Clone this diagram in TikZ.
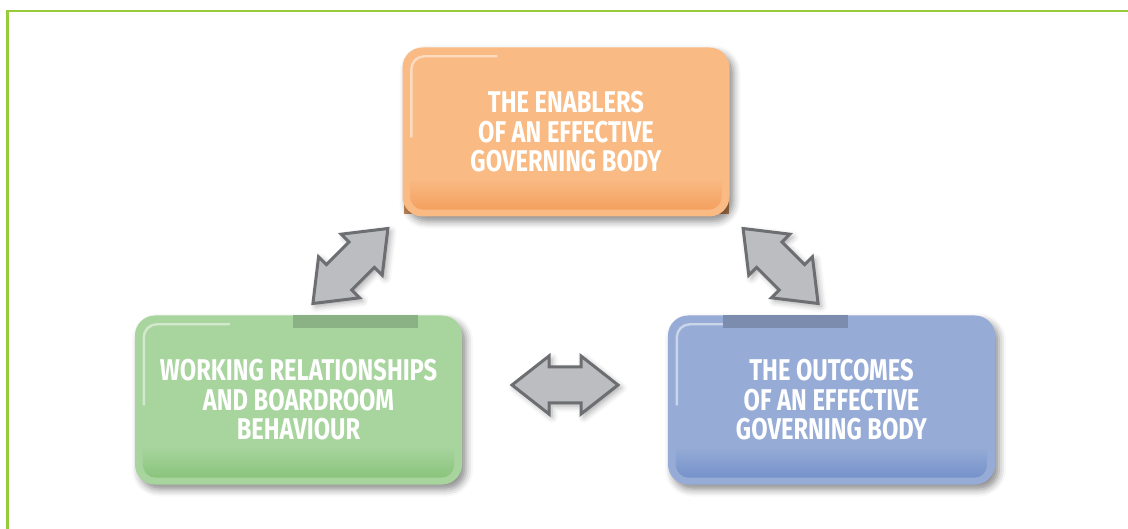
\documentclass[tikz,border=0pt]{standalone}
\usepackage{fontspec}
\newfontfamily\panelfont[FakeStretch=0.79]{Fira Sans}
\usetikzlibrary{calc,shadows.blur}

\definecolor{framegreen}{RGB}{151,203,57}
\definecolor{enablerfill}{RGB}{249,186,132}
\definecolor{enablerdark}{RGB}{244,160,95}
\definecolor{enablerstrip}{RGB}{196,138,92}
\definecolor{relationfill}{RGB}{168,212,158}
\definecolor{relationdark}{RGB}{138,196,124}
\definecolor{relationtab}{RGB}{139,178,133}
\definecolor{outcomefill}{RGB}{150,172,214}
\definecolor{outcomedark}{RGB}{118,146,203}
\definecolor{outcometab}{RGB}{124,140,175}
\definecolor{arrowfill}{RGB}{188,189,192}
\definecolor{arrowline}{RGB}{109,110,113}

\tikzset{
  panel/.style={rounded corners=20pt, minimum width=327pt, minimum height=169pt,
    text=white, align=center, font=\panelfont\bfseries\fontsize{30}{29.5}\selectfont,
    blur shadow={shadow xshift=4pt, shadow yshift=-5pt, shadow blur radius=7pt, shadow opacity=45}},
  twoway/.pic={
    \draw[fill=arrowfill, draw=arrowline, line width=3pt, line join=miter,
      blur shadow={shadow xshift=3pt, shadow yshift=-3pt, shadow blur radius=6pt, shadow opacity=35}]
      (-53,0) -- (-16,-29) -- (-16,-18) -- (16,-18) -- (16,-29) -- (53,0)
      -- (16,29) -- (16,18) -- (-16,18) -- (-16,29) -- cycle;
  }
}
% darker band at the foot of a panel, plus the light rim top left
\def\panelgloss(#1)[#2]{
  \shade[top color=#2fill, bottom color=#2dark]
    ($(#1.south west)+(8,-38)$) -- ($(#1.south east)+(-8,-38)$)
    [rounded corners=13pt] -- ($(#1.south east)+(-8,-7)$) -- ($(#1.south west)+(8,-7)$)
    [sharp corners] -- cycle;
  \draw[white, opacity=0.5, line width=2.4pt, rounded corners=13pt]
    ($(#1.north west)+(9,90)$) -- ($(#1.north west)+(9,9)$) -- ($(#1.north west)+(95,9)$);
}

\begin{document}
\begin{tikzpicture}[x=1pt, y=-1pt]
	\useasboundingbox (0,0) rectangle (1128,529);
	
	% frame
	\draw[framegreen, line width=2.6pt] (7.2,529) -- (7.2,11.2) -- (1128,11.2);
	
	% strip under the top panel
	\fill[enablerstrip] (404,197) rectangle (729,214);
	
	\node[panel, fill=enablerfill] (enablers) at (566,132)
		{THE ENABLERS\\OF AN EFFECTIVE\\GOVERNING BODY};
	\node[panel, fill=relationfill] (relations) at (298.5,400)
		{WORKING RELATIONSHIPS\\AND BOARDROOM\\BEHAVIOUR};
	\node[panel, fill=outcomefill] (outcomes) at (831.5,400)
		{THE OUTCOMES\\OF AN EFFECTIVE\\GOVERNING BODY};
	
	\panelgloss(enablers)[enabler]
	\panelgloss(relations)[relation]
	\panelgloss(outcomes)[outcome]
	
	% tabs on the top edge
	\fill[relationtab] ($(relations.north west)+(158,0)$) rectangle +(125,13);
	\fill[outcometab] ($(outcomes.north west)+(55,0)$) rectangle +(125,13);
	
	% two-way arrows between the panels
	\pic[rotate=45] at ($(relations.north)!0.5!(enablers.south west)$) {twoway};
	\pic[rotate=-45] at ($(outcomes.north)!0.5!(enablers.south east)$) {twoway};
	\pic at ($(relations.east)!0.5!(outcomes.west)+(0,-15)$) {twoway};
	
\end{tikzpicture}
\end{document}
